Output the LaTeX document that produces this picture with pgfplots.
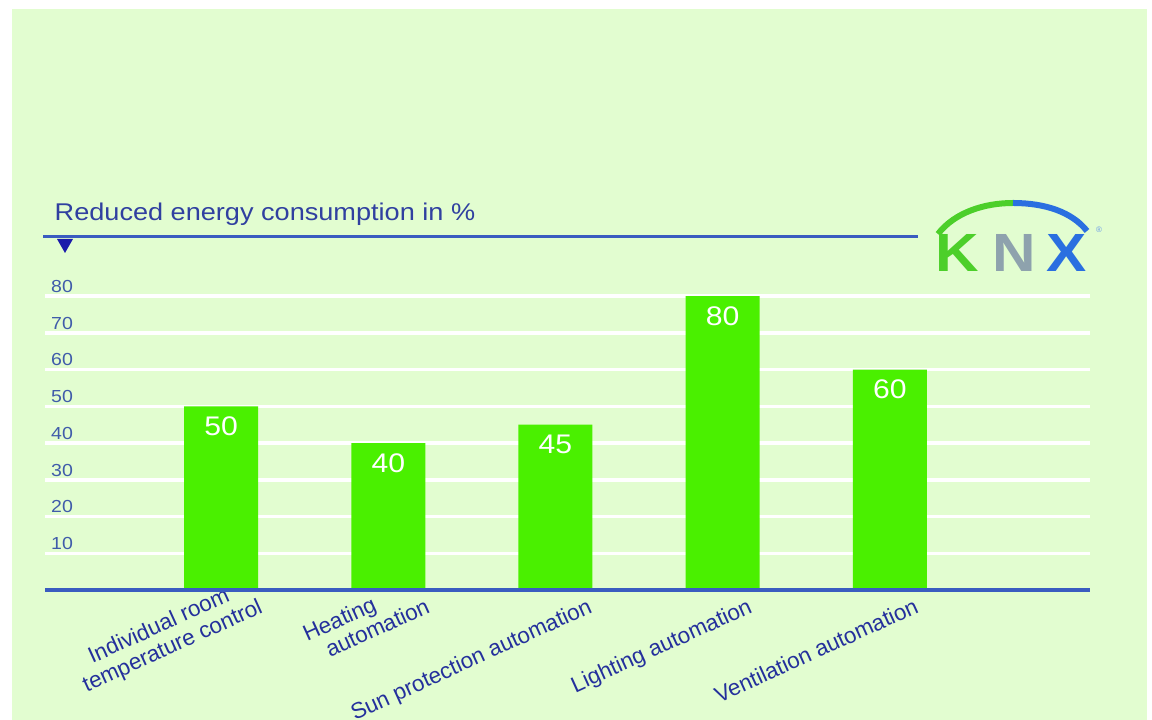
\documentclass[border=0pt]{standalone}
\usepackage{pgfplots}
\pgfplotsset{compat=1.18}
\usepackage{fontspec}
\setmainfont{Liberation Sans}
\newfontfamily\widefont{Liberation Sans}[FakeStretch=1.12]
\definecolor{bgpanel}{RGB}{226,253,208}
\definecolor{bargreen}{RGB}{74,240,0}
\definecolor{titleblue}{RGB}{48,64,160}
\definecolor{tickblue}{RGB}{64,92,170}
\definecolor{labelblue}{RGB}{36,48,156}
\definecolor{lineblue}{RGB}{58,92,192}
\definecolor{triblue}{RGB}{26,26,170}
\definecolor{knxgreen}{RGB}{76,207,42}
\definecolor{knxgray}{RGB}{142,162,173}
\definecolor{knxblue}{RGB}{42,111,224}
\begin{document}
\begin{tikzpicture}
\path[use as bounding box] (0bp,0bp) rectangle (1152bp,720bp);
\fill[white] (0bp,0bp) rectangle (1152bp,720bp);
\begin{scope}[x=1bp, y=-1bp, shift={(0bp,720bp)}]
  \fill[bgpanel] (12,9) rectangle (1147,720);
  % title
  \node[anchor=base west, inner sep=0, text=titleblue, font=\widefont\fontsize{24.3}{24.3}\selectfont] at (54.5,221) {Reduced energy consumption in \%};
  \draw[lineblue, line width=2.5bp] (43,236.5) -- (918,236.5);
  \fill[triblue] (57,239) -- (73,239) -- (65,253) -- cycle;
  % KNX logo
  \draw[knxgreen, line width=6bp] (938,234) .. controls (955,212) and (985,203) .. (1013,203);
  \draw[knxblue, line width=6bp] (1013,203) .. controls (1045,203) and (1072,212) .. (1087,231);
  \node[anchor=base, inner sep=0, text=knxgreen, font=\widefont\bfseries\fontsize{54}{54}\selectfont] at (957,272) {K};
  \node[anchor=base, inner sep=0, text=knxgray, font=\widefont\bfseries\fontsize{54}{54}\selectfont] at (1014,272) {N};
  \node[anchor=base, inner sep=0, text=knxblue, font=\widefont\bfseries\fontsize{54}{54}\selectfont] at (1066.5,272) {X};
  \node[inner sep=0, text=knxblue!70, font=\fontsize{8}{8}\selectfont] at (1099,230) {\textregistered};
\end{scope}
\begin{axis}[
  at={(45bp,130bp)}, anchor=south west,
  scale only axis, width=1045bp, height=294bp,
  xmin=-1.053, xmax=5.197, ymin=0, ymax=80,
  axis line style={draw=none},
  ytick={10,20,...,80},
  ymajorgrids, grid style={white, line width=3.5bp},
  major tick length=0pt,
  /pgf/number format/assume math mode=true,
  yticklabel style={anchor=south west, inner sep=0pt, xshift=6bp, yshift=3.3bp, text=tickblue, font=\widefont\fontsize{17.5}{17.5}\selectfont},
  xtick={0.197,1.197,2.167,3.125,4.120},
  xticklabels={
    {\begin{tabular}[b]{@{}l@{}}\hspace*{17bp}Individual room\\temperature control\end{tabular}},
    {\begin{tabular}[b]{@{}l@{}}Heating\\\hspace*{14bp}automation\end{tabular}},
    {Sun protection automation},
    {Lighting automation},
    {Ventilation automation}},
  xticklabel style={rotate=24.5, anchor=base east, inner sep=0pt, yshift=-24bp, text=labelblue, font=\fontsize{22.5}{24}\selectfont},
  ybar, bar width=74bp, bar shift=0pt,
  nodes near coords={\pgfmathprintnumber[assume math mode=true]{\pgfplotspointmeta}},
  nodes near coords style={anchor=north, inner sep=0pt, yshift=-10.5bp, text=white, font=\widefont\fontsize{27}{27}\selectfont},
  clip=false,
]
\addplot[fill=bargreen, draw=none] coordinates {(0,50) (1,40) (2,45) (3,80) (4,60)};
\draw[lineblue, line width=3bp] (rel axis cs:0,0) -- (rel axis cs:1,0);
\end{axis}
\end{tikzpicture}
\end{document}
